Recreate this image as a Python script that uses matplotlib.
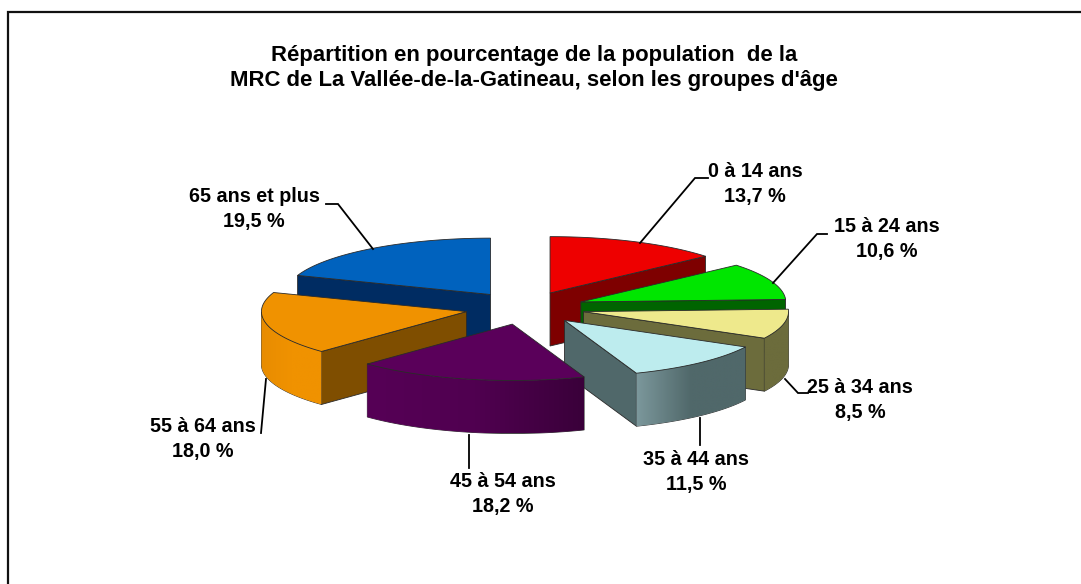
import numpy as np
import matplotlib
matplotlib.use("Agg")
import matplotlib.pyplot as plt
from matplotlib.colors import LinearSegmentedColormap
from matplotlib.patches import Polygon

# ---- data ----
categories = ["0 à 14 ans", "15 à 24 ans", "25 à 34 ans", "35 à 44 ans",
              "45 à 54 ans", "55 à 64 ans", "65 ans et plus"]
values = [13.7, 10.6, 8.5, 11.5, 18.2, 18.0, 19.5]
value_labels = ["13,7 %", "10,6 %", "8,5 %", "11,5 %", "18,2 %", "18,0 %", "19,5 %"]
title_lines = "Répartition en pourcentage de la population  de la\nMRC de La Vallée-de-la-Gatineau, selon les groupes d'âge"

# ---- styles ----
top_colors = ["#EE0000", "#00E600", "#EEE98C", "#BDECEE", "#5A005A", "#F09200", "#0062BE"]
face_colors = ["#7E0000", "#006400", "#6C6C3C", "#50686A", "#520052", "#7F4E00", "#002C62"]
rim_left = ["#7E0000", "#006400", "#6C6C3C", "#7C989C", "#560056", "#E88C00", "#002C62"]
rim_mid = ["#7E0000", "#006400", "#6C6C3C", "#50686A", "#500050", "#F09200", "#002C62"]
rim_right = ["#7E0000", "#006400", "#6C6C3C", "#50686A", "#3A003A", "#F09200", "#002C62"]
draw_order = [6, 0, 5, 1, 2, 3, 4]
label_xy = [(755, 184), (887, 239), (860, 400), (696, 472), (503, 494), (203, 439), (254, 209)]
leaders = [
    [(640, 243), (695, 178), (708, 178)],
    [(773, 283), (817, 234), (827, 234)],
    [(785, 379), (798, 393), (808, 393)],
    [(700, 418), (700, 445)],
    [(469, 435), (469, 468)],
    [(266, 379), (261, 433)],
    [(373, 249), (338, 204), (326, 204)],
]
CX, CY, RX, SQ, DEPTH, EXPLODE = 525, 308, 205, 0.275, 53, 60

plt.rcParams["font.family"] = ["Liberation Sans", "DejaVu Sans"]
fig = plt.figure(figsize=(10.81, 5.84), dpi=100, facecolor="white")
ax = fig.add_axes([0, 0, 1, 1])
ax.axis("off")

# frame (open towards the right and the bottom of the picture)
ax.plot([7.5, 7.5, 1081], [584, 11.5, 11.5], color="#111111", lw=1.6, solid_joinstyle="miter")


def point(ang, apex, r=RX):
    return apex[0] + r * np.sin(ang), apex[1] - r * SQ * np.cos(ang)


edge = "#2a2a2a"
bounds = np.radians(np.concatenate([[0], np.cumsum(values)]) * 3.6)
for i in draw_order:
    a1, a2 = bounds[i], bounds[i + 1]
    mid = (a1 + a2) / 2
    apex = (CX + EXPLODE * np.sin(mid), CY - EXPLODE * SQ * np.cos(mid))
    angs = np.linspace(a1, a2, 120)
    rim = np.array([point(a, apex) for a in angs])
    z = 6 + draw_order.index(i)

    # cut faces that look towards the viewer
    for ang, visible in ((a1, np.sin(a1) < 0), (a2, np.sin(a2) > 0)):
        if visible:
            px, py = point(ang, apex)
            ax.fill([apex[0], px, px, apex[0]],
                    [apex[1], py, py + DEPTH, apex[1] + DEPTH],
                    facecolor=face_colors[i], edgecolor=edge, lw=0.6, zorder=z)

    # outer wall, front half only, with a left-to-right shading
    front = angs[np.cos(angs) < 0]
    if len(front) > 1:
        fx, fy = zip(*[point(a, apex) for a in front])
        fx, fy = np.array(fx), np.array(fy)
        outline = np.column_stack([np.r_[fx, fx[::-1]], np.r_[fy, fy[::-1] + DEPTH]])
        poly = Polygon(outline, closed=True, facecolor="none", edgecolor=edge, lw=0.6, zorder=z)
        ax.add_patch(poly)
        cmap = LinearSegmentedColormap.from_list("rim", [rim_left[i], rim_mid[i], rim_right[i]])
        im = ax.imshow(np.linspace(0, 1, 128)[None, :], cmap=cmap,
                       extent=(fx.min(), fx.max(), fy.max() + DEPTH, fy.min()),
                       aspect="auto", interpolation="bilinear", zorder=z)
        im.set_clip_path(poly)

    # top surface
    ax.fill(np.r_[apex[0], rim[:, 0]], np.r_[apex[1], rim[:, 1]],
            facecolor=top_colors[i], edgecolor=edge, lw=0.6, zorder=z)

# leaders and labels
for cat, lab, xy, line in zip(categories, value_labels, label_xy, leaders):
    xs, ys = zip(*line)
    ax.plot(xs, ys, color="black", lw=1.3, zorder=30, solid_joinstyle="miter")
    ax.text(xy[0], xy[1], f"{cat}\n{lab}", ha="center", va="center", fontsize=14.2,
            fontweight="bold", linespacing=1.36, color="black", zorder=31)

ax.text(534, 68, title_lines, ha="center", va="center", fontsize=15.9,
        fontweight="bold", linespacing=1.3, color="black", zorder=31)

ax.set_xlim(0, 1081)
ax.set_ylim(584, 0)
ax.set_aspect("auto")
fig.savefig("out.png", dpi=100, facecolor="white")
